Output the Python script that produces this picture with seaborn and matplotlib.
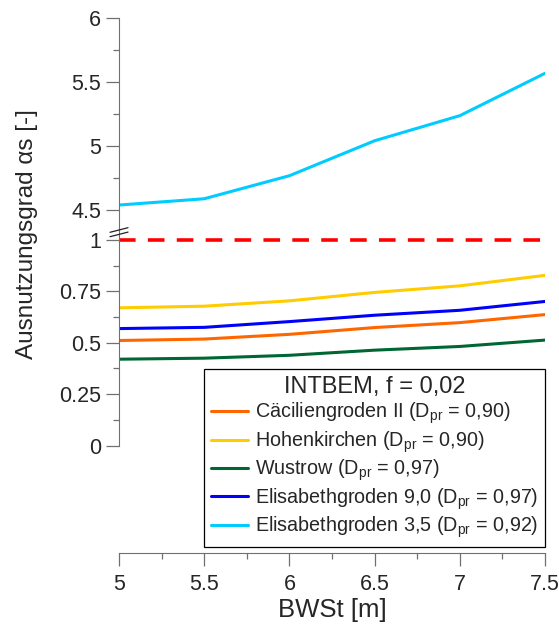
import numpy as np
import pandas as pd
import seaborn as sns
import matplotlib.pyplot as plt
from matplotlib.lines import Line2D
from matplotlib.ticker import MultipleLocator

# --- Daten ---
bwst = [5.0, 5.5, 6.0, 6.5, 7.0, 7.5]

caecilien = [0.511, 0.518, 0.541, 0.574, 0.598, 0.637]
hohenkirchen = [0.670, 0.678, 0.704, 0.745, 0.777, 0.828]
wustrow = [0.420, 0.425, 0.439, 0.464, 0.482, 0.513]
elisabeth_90 = [0.569, 0.575, 0.603, 0.634, 0.658, 0.701]
elisabeth_35 = [4.539, 4.588, 4.768, 5.041, 5.237, 5.568]

grenzwert = 1.0

namen = [
    "Cäciliengroden II",
    "Hohenkirchen",
    "Wustrow",
    "Elisabethgroden 9,0",
    "Elisabethgroden 3,5",
]
dpr = ["0,90", "0,90", "0,97", "0,97", "0,92"]
farben = ["#FF6600", "#FFCC00", "#006633", "#0000FF", "#00CCFF"]

werte = [caecilien, hohenkirchen, wustrow, elisabeth_90, elisabeth_35]

df = pd.DataFrame({
    "BWSt": bwst * len(namen),
    "alpha": sum(werte, []),
    "Standort": [n for n in namen for _ in bwst],
})

# --- Stil ---
sns.set_style("ticks")
plt.rcParams["font.family"] = ["Liberation Sans", "DejaVu Sans"]
plt.rcParams["mathtext.fontset"] = "custom"
plt.rcParams["mathtext.rm"] = "Liberation Sans"
plt.rcParams["mathtext.it"] = "Liberation Sans:italic"

grau = "#707070"

fig = plt.figure(figsize=(5.59, 6.25), dpi=100)
W, H = 559, 625
links, rechts = 119, 545
ax_top = fig.add_axes([links / W, (H - 230) / H, (rechts - links) / W, (230 - 18) / H])
ax_bot = fig.add_axes([links / W, (H - 553) / H, (rechts - links) / W, (553 - 230) / H])

# oberer Teil: nur Elisabethgroden 3,5
df_oben = df[df["Standort"] == namen[4]]
df_unten = df[df["Standort"] != namen[4]]

sns.lineplot(data=df_oben, x="BWSt", y="alpha", hue="Standort", palette=[farben[4]],
             linewidth=2.2, ax=ax_top, legend=False)
sns.lineplot(data=df_unten, x="BWSt", y="alpha", hue="Standort", hue_order=namen[:4],
             palette=farben[:4], linewidth=2.2, ax=ax_bot, legend=False)

ax_bot.axhline(grenzwert, color="#FF0000", linewidth=2.6, dashes=(4.6, 3.4))

ax_top.set_xlim(5, 7.5)
ax_bot.set_xlim(5, 7.5)
ax_top.set_ylim(4.344, 6.0)
ax_bot.set_ylim(-0.523, 1.0487)

for ax in (ax_top, ax_bot):
    ax.patch.set_alpha(0)
    ax.spines["top"].set_visible(False)
    ax.spines["right"].set_visible(False)
    ax.spines["left"].set_color(grau)
    ax.set_xlabel("")
    ax.set_ylabel("")
    ax.tick_params(axis="both", which="major", direction="out", length=9.4, width=0.9,
                   color=grau, labelsize=15.5, pad=3.6)
    ax.tick_params(axis="both", which="minor", direction="out", length=4.3, width=0.9,
                   color=grau)

ax_top.spines["bottom"].set_visible(False)
ax_top.tick_params(axis="x", which="both", bottom=False, labelbottom=False)
ax_top.yaxis.set_major_locator(MultipleLocator(0.5))
ax_top.yaxis.set_minor_locator(MultipleLocator(0.25))
ax_top.set_yticks([4.5, 5, 5.5, 6])
ax_top.set_yticklabels(["4.5", "5", "5.5", "6"])

ax_bot.spines["left"].set_bounds(0, 1.0487)
ax_bot.spines["bottom"].set_color(grau)
ax_bot.set_yticks([0, 0.25, 0.5, 0.75, 1])
ax_bot.set_yticklabels(["0", "0.25", "0.5", "0.75", "1"])
ax_bot.set_yticks([0.125, 0.375, 0.625, 0.875], minor=True)
ax_bot.set_xticks(bwst)
ax_bot.set_xticklabels(["5", "5.5", "6", "6.5", "7", "7.5"])
ax_bot.xaxis.set_minor_locator(MultipleLocator(0.25))
ax_bot.tick_params(axis="x", which="major", pad=6)

ax_bot.set_xlabel("BWSt [m]", fontsize=18.5, labelpad=2)
fig.text(27 / W, 1 - 234 / H, "Ausnutzungsgrad αs [-]", rotation=90,
         fontsize=17.5, ha="center", va="center")

# Achsenbruch-Markierung
for y0, y1 in [(232.3, 227.7), (236.7, 232.1)]:
    fig.add_artist(Line2D([110 / W, 128 / W], [1 - y0 / H, 1 - y1 / H],
                          color="#222222", linewidth=0.9))

# --- Legende ---
handles = [Line2D([], [], color=c, linewidth=2.2) for c in farben]
labels = [f"{n} ($\\mathrm{{D}}_{{\\mathrm{{pr}}}}$ = {d})" for n, d in zip(namen, dpr)]
leg = ax_bot.legend(handles, labels, title="INTBEM, f = 0,02", loc="lower right",
                    bbox_to_anchor=(rechts / W, 1 - 547 / H), bbox_transform=fig.transFigure,
                    fontsize=14.2, title_fontsize=17, frameon=True, fancybox=False,
                    handlelength=1.85, handletextpad=0.35, borderpad=0.35,
                    labelspacing=0.15, borderaxespad=0)
leg.get_frame().set_edgecolor("black")
leg.get_frame().set_linewidth(0.9)
leg.get_frame().set_alpha(1)

fig.savefig("out.png", dpi=100)
